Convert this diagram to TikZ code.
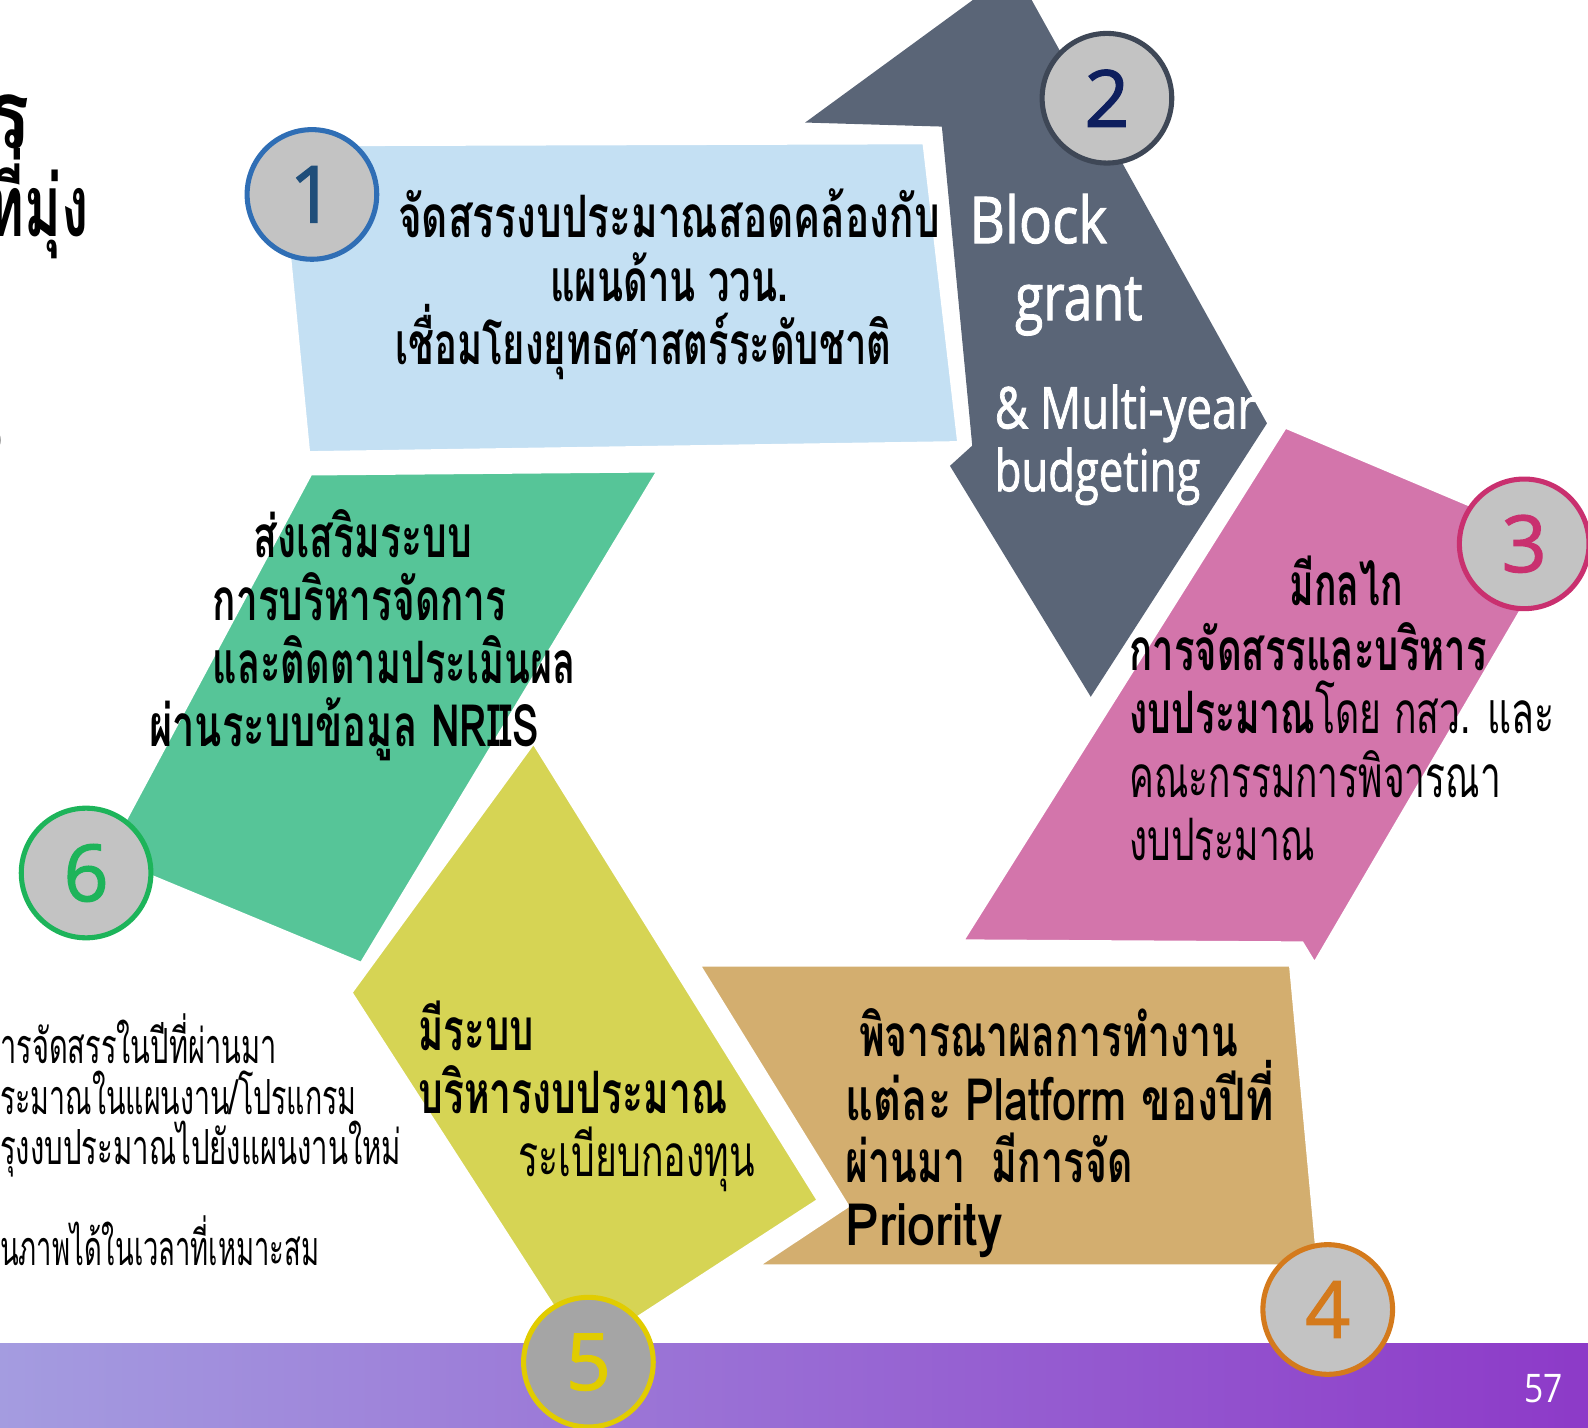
\documentclass[tikz,border=0pt]{standalone}
\usepackage{fontspec}
\usepackage{graphicx}
\newfontfamily\thaif[Script=Thai]{Loma}
\newfontfamily\latf{Open Sans}
\newfontfamily\latm[FakeBold=1.6]{Open Sans}
\newcommand\fitw[2]{\resizebox{#1bp}{\height}{#2}}
\definecolor{cblue}{HTML}{C4E0F3}
\definecolor{cslate}{HTML}{5A6577}
\definecolor{cpink}{HTML}{D375AB}
\definecolor{ctan}{HTML}{D3AE6F}
\definecolor{cyel}{HTML}{D6D454}
\definecolor{cgreen}{HTML}{56C598}
\definecolor{cfill}{HTML}{C3C3C3}
\definecolor{cfillb}{HTML}{A5A5A5}
\definecolor{oa}{HTML}{2F6EB5}
\definecolor{na}{HTML}{1F4E7A}
\definecolor{ob}{HTML}{3E4756}
\definecolor{nb}{HTML}{0E1F5E}
\definecolor{oc}{HTML}{C9306F}
\definecolor{od}{HTML}{D47A1C}
\definecolor{oe}{HTML}{E1CC00}
\definecolor{of}{HTML}{1DB45A}
\definecolor{barl}{HTML}{A49CE0}
\definecolor{barm}{HTML}{A77CDB}
\definecolor{barr}{HTML}{8D3AC8}
\begin{document}
\begin{tikzpicture}[x=1bp,y=-1bp,
  shp/.style={draw=white, line width=9bp, line join=miter},
  tb/.style={inner sep=0pt, anchor=base west, font=\thaif\bfseries\fontsize{58}{60}\selectfont},
  tr/.style={inner sep=0pt, anchor=base west, font=\thaif\fontsize{58}{60}\selectfont},
  ts/.style={inner sep=0pt, anchor=base west, font=\thaif\fontsize{48}{50}\selectfont},
  gl/.style={inner sep=0pt, anchor=base west, text=white, font=\latm\fontsize{64}{66}\selectfont},
  numc/.style={circle, minimum size=128bp, inner sep=0pt, line width=5bp, fill=cfill, font=\latm\fontsize{78}{78}\selectfont}]
\useasboundingbox (0,0) rectangle (1568,1410);
\clip (0,0) rectangle (1568,1410);
% shapes
\fill[cslate] (795,121) -- (977,-12) -- (1012,-12) -- (1251,418) -- (1077,688) -- (938,460) -- (960,440) -- (930,125) -- cycle;
\filldraw[shp, fill=cblue] (272,140) -- (915,138) -- (950,440) -- (302,450) -- cycle;
\filldraw[shp, fill=cpink] (945,932) -- (1268,418) -- (1545,535) -- (1298,957) -- (1284,934) -- cycle;
\filldraw[shp, fill=cgreen] (305,465) -- (655,462) -- (358,955) -- (100,848) -- cycle;
\filldraw[shp, fill=ctan] (685,950) -- (1277,950) -- (1305,1253) -- (738,1253) -- (833,1190) -- cycle;
\filldraw[shp, fill=cyel] (527,728) -- (812,1186) -- (575,1340) -- (343,980) -- cycle;
% bottom bar
\shade[left color=barl, middle color=barm, right color=barr] (0,1327) rectangle (1568,1410);
% title fragments
\node[inner sep=0pt, anchor=base east, font=\thaif\bfseries\fontsize{95}{96}\selectfont] (ti1) at (30,147) {\fitw{44}{ร}};
\node[inner sep=0pt, anchor=base east, font=\thaif\bfseries\fontsize{85}{86}\selectfont] (ti2) at (88,234) {\fitw{100}{ที่มุ่ง}};
\node[inner sep=0pt, anchor=base east, font=\thaif\fontsize{45}{46}\selectfont] (ti3) at (4,447) {)};
% block 1
\node[tb] (t1a) at (393,235) {\fitw{535}{จัดสรรงบประมาณสอดคล้องกับ}};
\node[tb] (t1b) at (543,298) {\fitw{235}{แผนด้าน ววน.}};
\node[tb] (t1c) at (390,360) {\fitw{490}{เชื่อมโยงยุทธศาสตร์ระดับชาติ}};
% block 2
\node[gl] (t2a) at (957,240) {\fitw{136}{Block}};
\node[gl] (t2b) at (1002,316) {\fitw{126}{grant}};
\node[gl, font=\latm\fontsize{57}{59}\selectfont] (t2c) at (982,423) {\fitw{258}{\& Multi-year}};
\node[gl, font=\latm\fontsize{57}{59}\selectfont] (t2d) at (982,485) {\fitw{203}{budgeting}};
% block 3
\node[tb] (t3a) at (1273,598) {\fitw{112}{มีกลไก}};
\node[tb] (t3b) at (1115,662) {\fitw{353}{การจัดสรรและบริหาร}};
\node[tr] (t3c) at (1115,724) {\fitw{420}{{\bfseries งบประมาณ}โดย กสว. และ}};
\node[tr] (t3d) at (1115,787) {\fitw{367}{คณะกรรมการพิจารณา}};
\node[tr] (t3e) at (1115,850) {\fitw{183}{งบประมาณ}};
% block 4
\node[tb] (t4a) at (848,1043) {\fitw{374}{พิจารณาผลการทำงาน}};
\node[tb] (t4b) at (835,1106) {\fitw{423}{แต่ละ Platform ของปีที่}};
\node[tb] (t4c) at (835,1168) {\fitw{283}{ผ่านมา\ \ มีการจัด}};
\node[tb] (t4d) at (835,1230) {\fitw{155}{Priority}};
% block 5
\node[tb] (t5a) at (413,1037) {\fitw{114}{มีระบบ}};
\node[tb] (t5b) at (413,1099) {\fitw{305}{บริหารงบประมาณ}};
\node[tr] (t5c) at (512,1162) {\fitw{233}{ระเบียบกองทุน}};
% block 6
\node[tb] (t6a) at (250,550) {\fitw{216}{ส่งเสริมระบบ}};
\node[tb] (t6b) at (210,613) {\fitw{290}{การบริหารจัดการ}};
\node[tb] (t6c) at (210,675) {\fitw{358}{และติดตามประเมินผล}};
\node[tb] (t6d) at (147,737) {\fitw{385}{ผ่านระบบข้อมูล NRIIS}};
% left side text
\node[ts] (l1) at (0,1050) {\fitw{273}{ารจัดสรรในปีที่ผ่านมา}};
\node[ts] (l2) at (0,1100) {\fitw{352}{ระมาณในแผนงาน/โปรแกรม}};
\node[ts] (l3) at (0,1150) {\fitw{396}{รุงงบประมาณไปยังแผนงานใหม่}};
\node[ts] (l4) at (0,1250) {\fitw{315}{นภาพได้ในเวลาที่เหมาะสม}};
% circles
\node[numc, draw=oa, text=na] (n1) at (308,192) {1};
\node[numc, draw=ob, text=nb] (n2) at (1093,97) {2};
\node[numc, draw=oc, text=oc] (n3) at (1505,537) {3};
\node[numc, draw=od, text=od] (n4) at (1311,1293) {4};
\node[numc, draw=oe, text=oe, fill=cfillb] (n5) at (581,1345) {5};
\node[numc, draw=of, text=of] (n6) at (85,862) {6};
% page number
\node[inner sep=0pt, anchor=base west, text=white, font=\latf\fontsize{39}{40}\selectfont] (pg) at (1505,1385) {\fitw{38}{57}};
\end{tikzpicture}
\end{document}
